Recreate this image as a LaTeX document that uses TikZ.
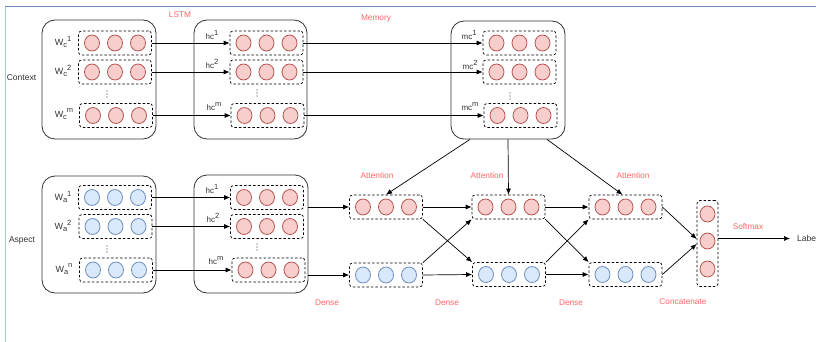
\documentclass[tikz,border=0pt]{standalone}
\usepackage{fontspec}
\setmainfont{Liberation Sans}
\usetikzlibrary{arrows.meta,calc,shapes.geometric}
\definecolor{pinkF}{HTML}{F8CECC}
\definecolor{pinkD}{HTML}{B85450}
\definecolor{blueF}{HTML}{DAE8FC}
\definecolor{blueD}{HTML}{6C8EBF}
\definecolor{redT}{HTML}{FF6666}
\definecolor{frameA}{HTML}{6C8EBF}
\definecolor{frameB}{HTML}{A9C4EB}
\definecolor{boxD}{HTML}{333333}
\tikzset{
  rowbox/.style={draw=black, dash pattern=on 2.5pt off 2pt, rounded corners=3pt, line width=0.7pt, minimum width=73pt, minimum height=24pt, inner sep=0pt},
  cell/.style={ellipse, line width=0.8pt, minimum width=15pt, minimum height=16pt, inner sep=0pt},
  bigbox/.style={draw=boxD, rounded corners=13pt, line width=0.8pt, inner sep=0pt},
  arr/.style={-{Latex[length=6pt,width=5pt]}, line width=0.7pt, black},
  redlab/.style={text=redT, font=\fontsize{8.3}{10}\selectfont, inner sep=1pt},
  blab/.style={text=black!80, font=\fontsize{8.5}{10}\selectfont, inner sep=1pt},
  wlab/.style={text=black!80, font=\fontsize{9}{10}\selectfont, inner sep=1pt},
  sublab/.style={text=black!80, font=\fontsize{8}{9}\selectfont, inner sep=0.5pt},
}
\newcommand\mysup[1]{\raisebox{0.5em}{\fontsize{7.5}{8}\selectfont #1}}
\newcommand\mysub[1]{\raisebox{-0.25em}{\fontsize{7.5}{8}\selectfont #1}}
\newcommand\cellrow[4]{%
  \node[rowbox] (#1) at (#2,#3) {};
  \node[cell,fill=#4F,draw=#4D] (#1a) at ($(#1)+(-23,0)$) {};
  \node[cell,fill=#4F,draw=#4D] (#1b) at ($(#1)+(0,0)$) {};
  \node[cell,fill=#4F,draw=#4D] (#1c) at ($(#1)+(23,0)$) {};
}
\newcommand\vdotsat[2]{%
  \foreach \dd in {-3,0,3} \fill[black!75] (#1,#2+\dd) circle (0.55pt);
}
\begin{document}
\begin{tikzpicture}[x=1pt,y=-1pt]
\useasboundingbox (0,0) rectangle (816,342);
\fill[white] (0,0) rectangle (816,342);
\draw[frameA, line width=1pt] (5,7) -- (816,7);
\draw[frameB, line width=1pt] (5,7) -- (5,342);

% outer boxes
\node[bigbox, minimum width=114pt, minimum height=119pt] (ctx) at (99,79.5) {};
\node[bigbox, minimum width=113pt, minimum height=119pt] (lstmC) at (250.5,79.5) {};
\node[bigbox, minimum width=114pt, minimum height=118pt] (mem) at (508,80) {};
\node[bigbox, minimum width=114pt, minimum height=117pt] (asp) at (99,234.5) {};
\node[bigbox, minimum width=114pt, minimum height=118pt] (lstmA) at (251,234) {};

% context rows
\cellrow{c1}{115}{43}{pink}
\cellrow{c2}{115}{72}{pink}
\cellrow{c3}{116}{115.5}{pink}
% lstm context rows
\cellrow{h1}{266.5}{43}{pink}
\cellrow{h2}{266.5}{72}{pink}
\cellrow{h3}{267.5}{115.5}{pink}
% memory rows
\cellrow{m1}{519.5}{43}{pink}
\cellrow{m2}{519.5}{72}{pink}
\cellrow{m3}{520.5}{115.5}{pink}
% aspect rows
\cellrow{a1}{115}{197.5}{blue}
\cellrow{a2}{115.5}{226.5}{blue}
\cellrow{a3}{116}{270}{blue}
% lstm aspect rows
\cellrow{g1}{267}{197.5}{pink}
\cellrow{g2}{267}{226.5}{pink}
\cellrow{g3}{268.5}{270}{pink}
% attention / dense rows
\cellrow{A1}{386}{207}{pink}
\cellrow{D1}{386}{275}{blue}
\cellrow{A2}{508.5}{207}{pink}
\cellrow{D2}{509}{274.5}{blue}
\cellrow{A3}{625.5}{207}{pink}
\cellrow{D3}{625.5}{274.5}{blue}
% concatenate column
\node[rowbox, minimum width=21pt, minimum height=86pt] (cc) at (707.5,243.5) {};
\node[cell,fill=pinkF,draw=pinkD] (cc1) at (707.5,214) {};
\node[cell,fill=pinkF,draw=pinkD] (cc2) at (707.5,241) {};
\node[cell,fill=pinkF,draw=pinkD] (cc3) at (707.5,269) {};

% vertical dots
\vdotsat{107}{94}
\vdotsat{257}{93}
\vdotsat{510}{96}
\vdotsat{107}{249}
\vdotsat{257}{247}

% side labels
\node[blab] (lctx) at (21.5,78) {Context};
\node[blab] (lasp) at (22,240) {Aspect};
\node[wlab] (wc1) at (63,42) {W\mysub{c}\mysup{1}};
\node[wlab] (wc2) at (63,71) {W\mysub{c}\mysup{2}};
\node[wlab] (wc3) at (64,114) {W\mysub{c}\mysup{m}};
\node[wlab] (wa1) at (63,197) {W\mysub{a}\mysup{1}};
\node[wlab] (wa2) at (63,226) {W\mysub{a}\mysup{2}};
\node[wlab] (wa3) at (64,269) {W\mysub{a}\mysup{n}};
\node[sublab] (hl1) at (212,35) {hc\mysup{1}};
\node[sublab] (hl2) at (212,64) {hc\mysup{2}};
\node[sublab] (hl3) at (214,107) {hc\mysup{m}};
\node[sublab] (gl1) at (212,189) {hc\mysup{1}};
\node[sublab] (gl2) at (213,218) {hc\mysup{2}};
\node[sublab] (gl3) at (216,261) {hc\mysup{m}};
\node[sublab] (ml1) at (469,35) {mc\mysup{1}};
\node[sublab] (ml2) at (470,65) {mc\mysup{2}};
\node[sublab] (ml3) at (470,107) {mc\mysup{m}};

% red labels
\node[redlab] (tLSTM) at (180,15) {LSTM};
\node[redlab] (tMem) at (376,19) {Memory};
\node[redlab] (tAt1) at (377,176) {Attention};
\node[redlab] (tAt2) at (487,176) {Attention};
\node[redlab] (tAt3) at (633,176) {Attention};
\node[redlab] (tDe1) at (327,303) {Dense};
\node[redlab] (tDe2) at (447,303) {Dense};
\node[redlab] (tDe3) at (571,303) {Dense};
\node[redlab] (tCon) at (683,302) {Concatenate};
\node[redlab] (tSoft) at (748,227) {Softmax};
\node[blab, anchor=west, inner xsep=7pt] (lbl) at (790,238.5) {Label};

% connectors
\foreach \s/\t in {c1/h1,c2/h2,c3/h3,h1/m1,h2/m2,h3/m3,a1/g1,a2/g2,a3/g3}
  \draw[arr] (\s.east) -- (\t.west);
\draw[arr] (lstmA.east |- A1.west) -- (A1.west);
\draw[arr] (lstmA.east |- D1.west) -- (D1.west);
\coordinate (mL) at ($(mem.south)+(-38,0)$);
\coordinate (mR) at ($(mem.south)+(39,0)$);
\draw[arr] (mL) -- (A1.north);
\draw[arr] (mem.south) -- (A2.north);
\draw[arr] (mR) -- ($(A3.north)+(-3,0)$);
\draw[arr] (A1.east) -- (A2.west);
\draw[arr] (D1.east) -- (D2.west);
\draw[arr] (A1.south east) -- (D2.north west);
\draw[arr] (D1.north east) -- (A2.south west);
\draw[arr] (A2.east) -- (A3.west);
\draw[arr] (D2.east) -- (D3.west);
\draw[arr] (A2.south east) -- (D3.north west);
\draw[arr] (D2.north east) -- (A3.south west);
\draw[arr] (A3.east) -- ($(cc.west |- cc2)+(0,-2)$);
\draw[arr] (D3.east) -- ($(cc.west |- cc2)+(0,3)$);
\draw[arr] (cc.east |- lbl.west) -- (lbl.west);
\end{tikzpicture}
\end{document}
